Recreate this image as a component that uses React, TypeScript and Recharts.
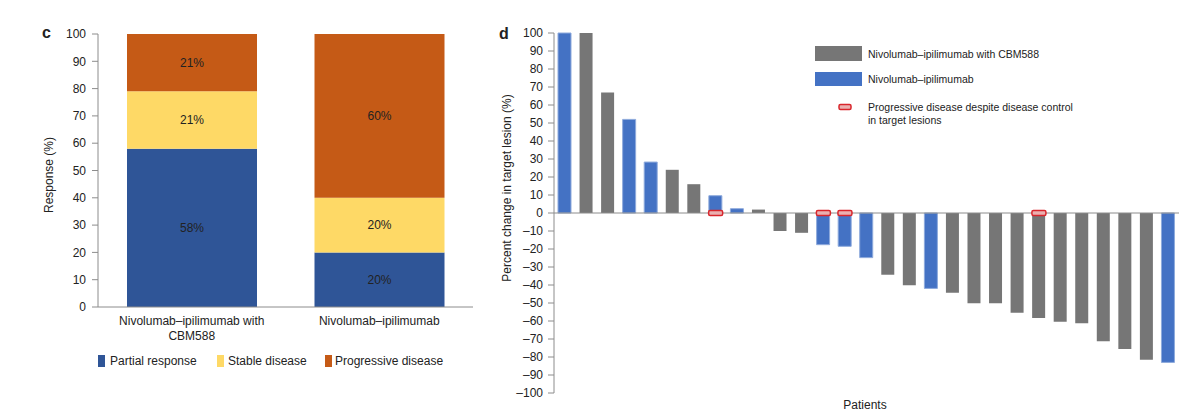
import {
  BarChart, Bar, XAxis, YAxis, LabelList, ComposedChart, Scatter, ReferenceLine, Cell,
} from 'recharts'

const FONT = '"Liberation Sans", Arial, sans-serif'
const INK = '#222'
const AXIS = '#8c8c8c'

// panel c – best overall response
const groups = ['Nivolumab–ipilimumab with CBM588', 'Nivolumab–ipilimumab']
const partialResponse = [58, 20]
const stableDisease = [21, 20]
const progressiveDisease = [21, 60]
const responseTicks = [0, 10, 20, 30, 40, 50, 60, 70, 80, 90, 100]

// panel d – waterfall of best change in target lesions
const changes = [100, 100, 67, 52, 28.3, 24, 16, 9.6, 2.4, 1.9, -10, -11, -17.6, -18.5, -24.8, -34.3, -40.2, -41.9, -44.3, -50.2, -50.2, -55.4, -58.3, -60.4, -61.3, -71.3, -75.6, -81.5, -83]
const arms = ['NI', 'CBM', 'CBM', 'NI', 'NI', 'CBM', 'CBM', 'NI', 'NI', 'CBM', 'CBM', 'CBM', 'NI', 'NI', 'NI', 'CBM', 'CBM', 'NI', 'CBM', 'CBM', 'CBM', 'CBM', 'CBM', 'CBM', 'CBM', 'CBM', 'CBM', 'CBM', 'NI']
const progressedDespiteControl = [8, 13, 14, 23]
const changeTicks = [-100, -90, -80, -70, -60, -50, -40, -30, -20, -10, 0, 10, 20, 30, 40, 50, 60, 70, 80, 90, 100]

const COLORS = {
  partial: '#2f5597',
  stable: '#fed966',
  progressive: '#c55a16',
  cbm: '#767676',
  ni: '#4472c4',
}

const responseData = groups.map((g, i) => ({
  group: g,
  partial: partialResponse[i],
  stable: stableDisease[i],
  progressive: progressiveDisease[i],
}))

const waterfallData = changes.map((v, i) => ({
  patient: `P${i + 1}`,
  change: v,
  arm: arms[i],
  flag: progressedDespiteControl.includes(i + 1) ? 0 : null,
}))

const pct = (v: any) => `${v}%`
const dashNum = (v: number) => (v < 0 ? `\u2013${Math.abs(v)}` : `${v}`)

// long group names go on two lines, last word underneath
function splitLabel(s: string) {
  if (s.length <= 26) return [s]
  const cut = s.lastIndexOf(' ')
  return [s.slice(0, cut), s.slice(cut + 1)]
}

function GroupTick({ x, y, payload }: any) {
  const lines = splitLabel(payload.value)
  return (
    <text x={x} y={y} textAnchor="middle" fontSize={12} fontFamily={FONT} fill={INK}>
      {lines.map((l, i) => (
        <tspan key={i} x={x} dy={i === 0 ? '0.71em' : 15}>{l}</tspan>
      ))}
    </text>
  )
}

function FlagMarker(props: any) {
  if (props.payload?.flag == null || typeof props.cx !== 'number') return <g />
  return (
    <rect x={props.cx - 7} y={props.cy - 2.5} width={14} height={5} rx={1.5}
      fill="#eab0b0" stroke="#d9262c" strokeWidth={1.5} />
  )
}

const tickStyle = { fontSize: 12, fill: INK, fontFamily: FONT }

export default function App() {
  return (
    <div style={{ position: 'fixed', left: 0, top: 0, width: 1200, height: 420, background: '#fff', fontFamily: FONT }}>
      {/* c */}
      <div style={{ position: 'absolute', left: 0, top: 0 }}>
        <BarChart width={480} height={420} data={responseData}
          margin={{ top: 34, right: 7, bottom: 73, left: 58 }} barSize={130}>
          <XAxis dataKey="group" height={40} stroke={AXIS} tickSize={0} tickMargin={9} interval={0}
            tick={<GroupTick />} />
          <YAxis width={40} domain={[0, 100]} ticks={responseTicks} stroke={AXIS} tickSize={6} tickMargin={6}
            tick={tickStyle} interval={0} />
          <Bar dataKey="partial" stackId="r" fill={COLORS.partial} isAnimationActive={false}>
            <LabelList dataKey="partial" position="center" formatter={pct} fill={INK} fontSize={12} fontFamily={FONT} />
          </Bar>
          <Bar dataKey="stable" stackId="r" fill={COLORS.stable} isAnimationActive={false}>
            <LabelList dataKey="stable" position="center" formatter={pct} fill={INK} fontSize={12} fontFamily={FONT} />
          </Bar>
          <Bar dataKey="progressive" stackId="r" fill={COLORS.progressive} isAnimationActive={false}>
            <LabelList dataKey="progressive" position="center" formatter={pct} fill={INK} fontSize={12} fontFamily={FONT} />
          </Bar>
        </BarChart>
      </div>

      {/* d */}
      <div style={{ position: 'absolute', left: 480, top: 0 }}>
        <ComposedChart width={720} height={420} data={waterfallData}
          margin={{ top: 33, right: 21, bottom: 27, left: 34 }}>
          <XAxis dataKey="patient" hide />
          <YAxis width={40} domain={[-100, 100]} ticks={changeTicks} interval={0} stroke={AXIS}
            tickSize={6} tickMargin={5} tick={tickStyle} tickFormatter={dashNum} />
          <Bar dataKey="change" barSize={13} isAnimationActive={false}>
            {waterfallData.map((d, i) => (
              <Cell key={i} fill={d.arm === 'NI' ? COLORS.ni : COLORS.cbm}
                stroke={d.arm === 'NI' ? '#8eaadc' : 'none'} strokeWidth={1} />
            ))}
          </Bar>
          <ReferenceLine y={0} stroke={AXIS} strokeWidth={1} />
          <Scatter dataKey="flag" shape={<FlagMarker />} isAnimationActive={false} />
        </ComposedChart>
      </div>

      {/* titles and legends */}
      <svg width={1200} height={420} style={{ position: 'absolute', left: 0, top: 0, pointerEvents: 'none' }}
        fontFamily={FONT} fill={INK}>
        <text x={42} y={32} fontSize={16} fontWeight="bold" dominantBaseline="central">c</text>
        <text x={499} y={33} fontSize={16} fontWeight="bold" dominantBaseline="central">d</text>

        <text transform="translate(49,175) rotate(-90)" fontSize={12} textAnchor="middle" dominantBaseline="central">Response (%)</text>
        <text transform="translate(507,188) rotate(-90)" fontSize={12} textAnchor="middle" dominantBaseline="central">Percent change in target lesion (%)</text>
        <text x={865} y={405} fontSize={12} textAnchor="middle" dominantBaseline="central">Patients</text>

        <rect x={98} y={355} width={7} height={12} fill={COLORS.partial} />
        <text x={110} y={361} fontSize={12} dominantBaseline="central">Partial response</text>
        <rect x={217} y={355} width={7} height={12} fill={COLORS.stable} />
        <text x={228} y={361} fontSize={12} dominantBaseline="central">Stable disease</text>
        <rect x={325} y={355} width={7} height={12} fill={COLORS.progressive} />
        <text x={335} y={361} fontSize={12} dominantBaseline="central">Progressive disease</text>

        <rect x={815} y={46} width={47} height={15} fill={COLORS.cbm} />
        <text x={868} y={54} fontSize={10.5} dominantBaseline="central">Nivolumab–ipilimumab with CBM588</text>
        <rect x={815} y={72} width={47} height={14} fill={COLORS.ni} />
        <text x={868} y={79} fontSize={10.5} dominantBaseline="central">Nivolumab–ipilimumab</text>
        <rect x={839} y={104.5} width={12} height={5} rx={1.5} fill="#eab0b0" stroke="#d9262c" strokeWidth={1.5} />
        <text x={868} y={107} fontSize={10.5} dominantBaseline="central">Progressive disease despite disease control</text>
        <text x={868} y={120} fontSize={10.5} dominantBaseline="central">in target lesions</text>
      </svg>
    </div>
  )
}
